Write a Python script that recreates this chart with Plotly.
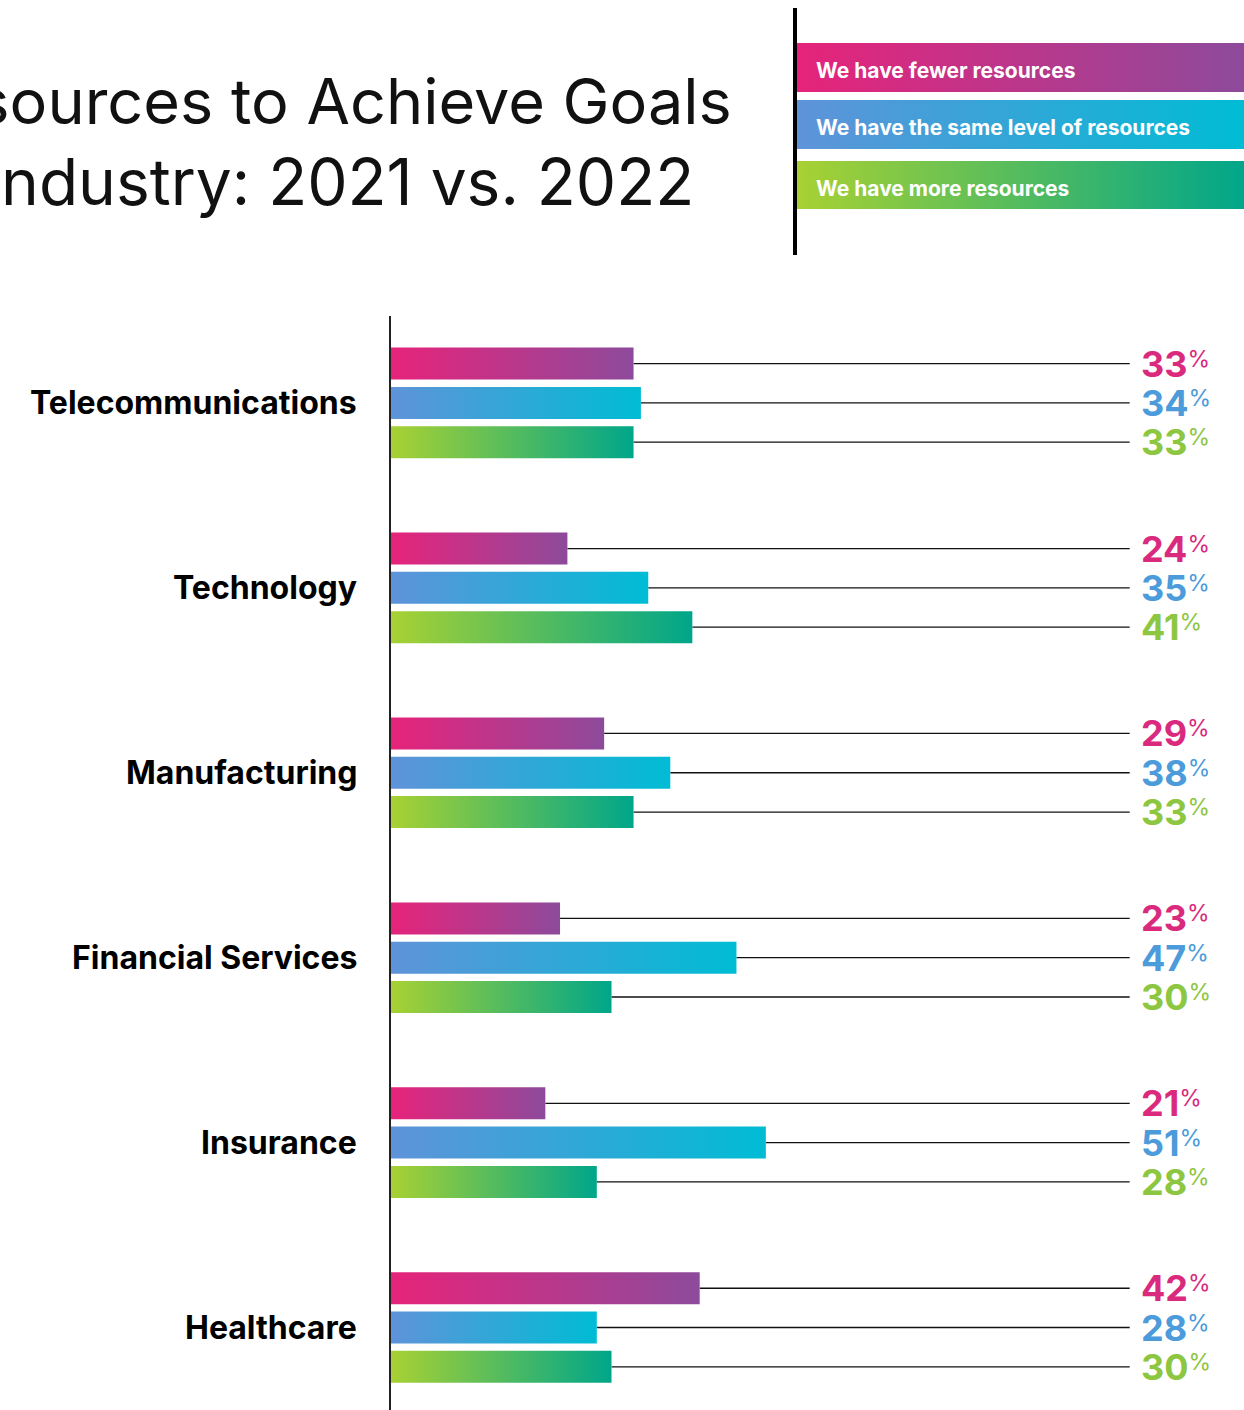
import plotly.graph_objects as go

# ---- data -------------------------------------------------------------
industries = ["Telecommunications", "Technology", "Manufacturing",
              "Financial Services", "Insurance", "Healthcare"]
fewer = [33, 24, 29, 23, 21, 42]
same = [34, 35, 38, 47, 51, 28]
more = [33, 41, 33, 30, 28, 30]
series_names = ["We have fewer resources",
                "We have the same level of resources",
                "We have more resources"]
title_lines = ["Resources to Achieve Goals", "by Industry: 2021 vs. 2022"]

# ---- styling ----------------------------------------------------------
W, H = 1244, 1410
FONT = "Inter"
gradients = [("#E6237A", "#8D4A9B"),   # fewer
             ("#5F93DA", "#00BCD4"),   # same
             ("#A8D133", "#00A68A")]   # more
label_colors = ["#DA2A7E", "#4C9BDA", "#8DC640"]

bar_offset = 0.2125      # distance between bars inside one group
bar_half = 0.0865        # half bar thickness
leader_end = 100.5       # where the thin leader lines stop
label_x = 101.8          # left edge of the value labels

fig = go.Figure()
series_values = [fewer, same, more]

# leader lines (drawn first, bars sit on top)
for j, vals in enumerate(series_values):
    for i, v in enumerate(vals):
        c = i + (j - 1) * bar_offset
        fig.add_trace(go.Scatter(
            x=[v, leader_end], y=[c, c], mode="lines",
            line=dict(color="#111111", width=1.3),
            hoverinfo="skip", showlegend=False))

# gradient bars
for j, vals in enumerate(series_values):
    c0, c1 = gradients[j]
    for i, v in enumerate(vals):
        c = i + (j - 1) * bar_offset
        fig.add_trace(go.Scatter(
            x=[0, v, v, 0, 0],
            y=[c - bar_half, c - bar_half, c + bar_half, c + bar_half, c - bar_half],
            mode="lines", line=dict(width=0), fill="toself",
            fillgradient=dict(type="horizontal", colorscale=[[0, c0], [1, c1]]),
            name=series_names[j], hoverinfo="skip", showlegend=False))

annotations = []
# value labels with a small raised percent sign
pct = "<span style='font-size:23px;baseline-shift:10px'>%</span>"
for j, vals in enumerate(series_values):
    for i, v in enumerate(vals):
        c = i + (j - 1) * bar_offset
        annotations.append(dict(
            x=label_x, y=c, xref="x", yref="y", xanchor="left", yanchor="middle",
            text=f"<b>{v}</b>{pct}", showarrow=False,
            font=dict(family=FONT, size=36, color=label_colors[j])))

# industry names
for i, name in enumerate(industries):
    annotations.append(dict(
        x=359 / W, y=i, xref="paper", yref="y", xanchor="right", yanchor="middle",
        text=f"<b>{name}</b>", showarrow=False,
        font=dict(family=FONT, size=32, color="#000000")))

# legend swatches on their own small axes
legend_tops = [0, 57, 118]
legend_h = 49
for j, name in enumerate(series_names):
    c0, c1 = gradients[j]
    t = legend_tops[j]
    fig.add_trace(go.Scatter(
        x=[0, 1, 1, 0, 0], y=[t, t, t + legend_h, t + legend_h, t],
        xaxis="x2", yaxis="y2", mode="lines", line=dict(width=0), fill="toself",
        fillgradient=dict(type="horizontal", colorscale=[[0, c0], [1, c1]]),
        hoverinfo="skip", showlegend=False))
    annotations.append(dict(
        x=814 / W, y=t + legend_h / 2 + 3, xref="paper", yref="y2",
        xanchor="left", yanchor="middle", text=f"<b>{name}</b>", showarrow=False,
        font=dict(family=FONT, size=21, color="#FFFFFF")))

# two-line title, each line right-aligned to its own end
for k, (line, right_px, mid_px, size) in enumerate(
        zip(title_lines, [734, 696], [101, 181], [63, 64])):
    annotations.append(dict(
        x=right_px / W, y=1 - mid_px / H, xref="paper", yref="paper",
        xanchor="right", yanchor="middle", align="right",
        text=line, showarrow=False,
        font=dict(family=FONT, size=size, color="#111111")))

fig.update_layout(
    width=W, height=H,
    margin=dict(l=0, r=0, t=0, b=0),
    paper_bgcolor="white", plot_bgcolor="white",
    showlegend=False,
    xaxis=dict(domain=[391 / W, 1], range=[0, 853 / 7.35], visible=False, fixedrange=True),
    yaxis=dict(domain=[0, 1 - 316 / H], range=[5.446, -0.470], showgrid=False,
               zeroline=False, showticklabels=False, ticks="",
               showline=True, linecolor="#222222", linewidth=1.5, fixedrange=True),
    xaxis2=dict(domain=[797 / W, 1], range=[0, 1], visible=False, anchor="y2"),
    yaxis2=dict(domain=[1 - 209 / H, 1 - 43 / H], range=[166, 0], visible=False, anchor="x2"),
    shapes=[dict(type="line", xref="paper", yref="paper",
                 x0=795 / W, x1=795 / W, y0=1 - 8 / H, y1=1 - 255 / H,
                 line=dict(color="#000000", width=4))],
    annotations=annotations,
)

fig.write_html("out.html")
